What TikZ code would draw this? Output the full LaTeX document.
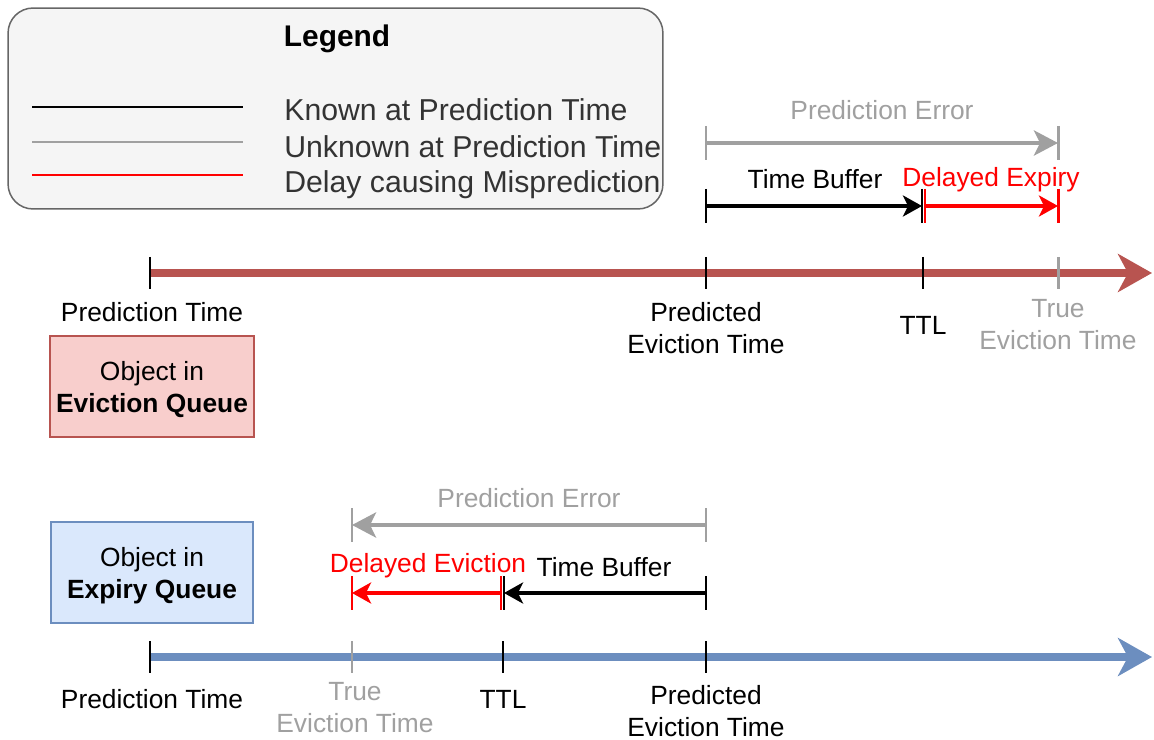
\documentclass[tikz,border=0pt]{standalone}
\usepackage{fontspec}
\setmainfont{Liberation Sans}
\usepackage{tikz}
\usetikzlibrary{arrows.meta,calc}
\definecolor{evictred}{HTML}{B85450}
\definecolor{evictfill}{HTML}{F8CECC}
\definecolor{expiryblue}{HTML}{6C8EBF}
\definecolor{expiryfill}{HTML}{DAE8FC}
\definecolor{unknowngray}{HTML}{A0A0A0}
\definecolor{legendfill}{HTML}{F5F5F5}
\definecolor{legendline}{HTML}{666666}
\definecolor{legendtext}{HTML}{333333}
\definecolor{delayred}{HTML}{FF0000}

\begin{document}
\begin{tikzpicture}[x=0.02cm,y=-0.02cm,
    lbl/.style={font=\fontsize{15}{18.2}\selectfont,align=center,inner sep=0pt},
    legtxt/.style={font=\fontsize{17.2}{20}\selectfont,text=legendtext,anchor=west,inner sep=0pt},
    timeline/.style={line width=4.6pt,-{Stealth[length=0.68cm,width=0.76cm,inset=0.2cm]}},
    tickline/.style={line width=1.7pt},
    spanarrow/.style={line width=1.8pt,-{Stealth[length=0.38cm,width=0.42cm,inset=0.1cm]}},
    errarrow/.style={line width=2.6pt,unknowngray,-{Stealth[length=0.48cm,width=0.5cm,inset=0.12cm]}},
    qbox/.style={draw,line width=0.85pt,minimum width=4.04cm,minimum height=2.02cm,align=center,text depth=0pt,font=\fontsize{15}{18.2}\selectfont}]
  \useasboundingbox (0,0) rectangle (1154,740);

  % legend
  \node[draw=legendline,fill=legendfill,rounded corners=0.5cm,line width=0.85pt,minimum width=13.1cm,minimum height=4.02cm] (legend) at (335.5,108.5) {};
  \node[font=\bfseries\fontsize{17}{20}\selectfont] (legtitle) at (337,39) {Legend};
  \coordinate (knownA) at (32,107);   \coordinate (knownB) at (243,107);
  \coordinate (unknownA) at (32,142); \coordinate (unknownB) at (243,142);
  \coordinate (delayA) at (32,175);   \coordinate (delayB) at (243,175);
  \draw[line width=1.7pt,black] (knownA) -- (knownB);
  \draw[line width=1.7pt,unknowngray] (unknownA) -- (unknownB);
  \draw[line width=1.7pt,delayred] (delayA) -- (delayB);
  \node[legtxt] (legknown) at (284,110) {Known at Prediction Time};
  \node[legtxt] (legunknown) at (284,147) {Unknown at Prediction Time};
  \node[legtxt] (legdelay) at (284,185) {Delay causing Misprediction};

  % eviction queue
  \coordinate (pt1) at (150,273);  \coordinate (pe1) at (706,273);
  \coordinate (ttl1) at (923,273); \coordinate (te1) at (1058,273);
  \coordinate (end1) at (1152,273);
  \draw[timeline,evictred] (pt1) -- (end1);
  \node[lbl] (lblpt1) at (152,312) {Prediction Time};
  \node[lbl] (lblpe1) at (706,328) {Predicted\\Eviction Time};
  \node[lbl] (lblttl1) at (923,325) {TTL};
  \node[lbl,text=unknowngray] (lblte1) at (1058,325) {True\\Eviction Time};
  \node[qbox,draw=evictred,fill=evictfill] (evictbox) at (152,386.5) {Object in\\\textbf{Eviction Queue}};

  \coordinate (errA1) at (706,143); \coordinate (errB1) at (1058,143);
  \coordinate (bufA1) at (706,206); \coordinate (bufB1) at (922,206);
  \coordinate (dlyA1) at (925,206); \coordinate (dlyB1) at (1058,206);
  \draw[errarrow] (errA1) -- (errB1);
  \draw[spanarrow,black] (bufA1) -- (bufB1);
  \draw[spanarrow,delayred] (dlyA1) -- (dlyB1);
  \node[lbl,text=unknowngray] (lblerr1) at (882,110) {Prediction Error};
  \node[lbl] (lblbuf1) at (815,179) {Time Buffer};
  \node[lbl,text=delayred] (lbldly1) at (991,180) {Delayed Expiry};

  % expiry queue
  \coordinate (pt2) at (150,657);  \coordinate (te2) at (352,657);
  \coordinate (ttl2) at (503,657); \coordinate (pe2) at (706,657);
  \coordinate (end2) at (1152,657);
  \draw[timeline,expiryblue] (pt2) -- (end2);
  \node[lbl] (lblpt2) at (152,699) {Prediction Time};
  \node[lbl,text=unknowngray] (lblte2) at (355,708) {True\\Eviction Time};
  \node[lbl] (lblttl2) at (503,699) {TTL};
  \node[lbl] (lblpe2) at (706,711) {Predicted\\Eviction Time};
  \node[qbox,draw=expiryblue,fill=expiryfill] (expirybox) at (152,572.5) {Object in\\\textbf{Expiry Queue}};

  \coordinate (errA2) at (706,525); \coordinate (errB2) at (352,525);
  \coordinate (bufA2) at (706,593); \coordinate (bufB2) at (504,593);
  \coordinate (dlyA2) at (501,593); \coordinate (dlyB2) at (352,593);
  \draw[errarrow] (errA2) -- (errB2);
  \draw[spanarrow,black] (bufA2) -- (bufB2);
  \draw[spanarrow,delayred] (dlyA2) -- (dlyB2);
  \node[lbl,text=unknowngray] (lblerr2) at (529,498) {Prediction Error};
  \node[lbl] (lblbuf2) at (604,567) {Time Buffer};
  \node[lbl,text=delayred] (lbldly2) at (428,566) {Delayed Eviction};

  % ticks
  \foreach \p/\c in {pt1/black,pe1/black,ttl1/black,te1/unknowngray,pt2/black,te2/unknowngray,ttl2/black,pe2/black}
    \draw[tickline,\c] ($(\p)+(0,-16)$) -- ($(\p)+(0,16)$);
  \foreach \p/\c in {errA1/unknowngray,errB1/unknowngray,bufA1/black,bufB1/black,dlyA1/delayred,dlyB1/delayred,
                     errA2/unknowngray,errB2/unknowngray,bufA2/black,bufB2/black,dlyA2/delayred,dlyB2/delayred}
    \draw[tickline,\c] ($(\p)+(0,-17)$) -- ($(\p)+(0,17)$);
\end{tikzpicture}
\end{document}
